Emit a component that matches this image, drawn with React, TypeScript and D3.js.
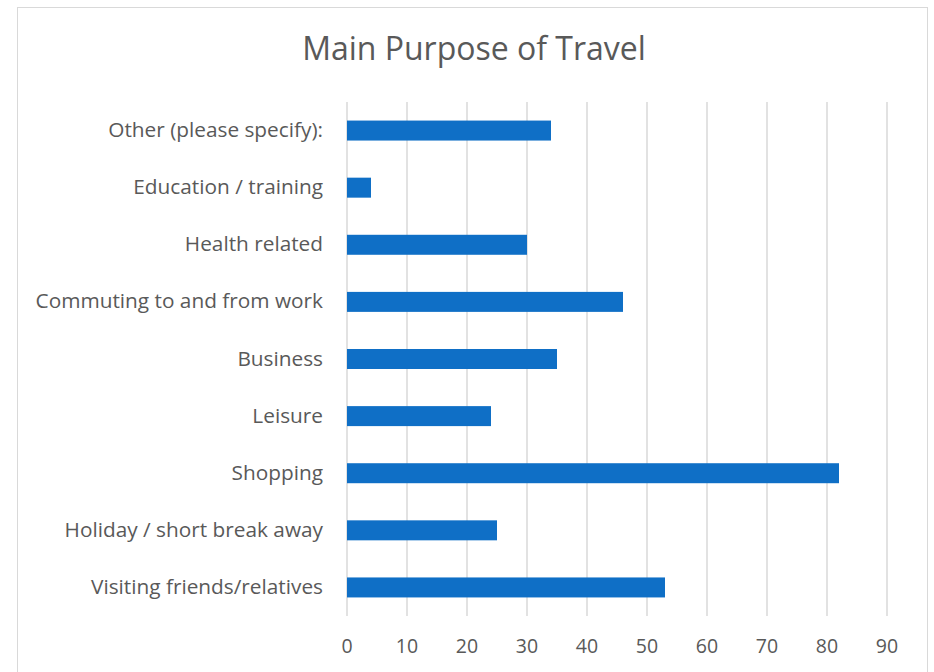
import React from "react";
import * as d3 from "d3";

const title = "Main Purpose of Travel";
const categories = [
  "Visiting friends/relatives",
  "Holiday / short break away",
  "Shopping",
  "Leisure",
  "Business",
  "Commuting to and from work",
  "Health related",
  "Education / training",
  "Other (please specify):",
];
const values = [53, 25, 82, 24, 35, 46, 30, 4, 34];
const xTicks = [0, 10, 20, 30, 40, 50, 60, 70, 80, 90];

const W = 934;
const H = 672;
const FONT = "'Open Sans', Lato, sans-serif";

export default function App() {
  const x = d3.scaleLinear().domain([0, 90]).range([347, 887]);
  const y = d3
    .scaleBand<string>()
    .domain([...categories].reverse())
    .range([102, 616])
    .paddingInner(0.65)
    .paddingOuter(0.325);
  return (
    <svg width={W} height={H} style={{ position: "absolute", left: 0, top: 0 }}>
      <rect x={0} y={0} width={W} height={H} fill="#ffffff" />
      <rect x={17.5} y={7.5} width={910} height={680} fill="#ffffff" stroke="#d9d9d9" strokeWidth={1} />
      <text x={474} y={60} textAnchor="middle" fontFamily={FONT} fontSize={32} fill="#595959">
        {title}
      </text>
      {xTicks.map((t) => (
        <line key={t} x1={x(t)} x2={x(t)} y1={102} y2={616} stroke="#d9d9d9" strokeWidth={1.5} />
      ))}
      {xTicks.map((t) => (
        <text key={"l" + t} x={x(t)} y={653} textAnchor="middle" fontFamily={FONT} fontSize={19.5} fill="#595959">
          {t}
        </text>
      ))}
      {categories.map((c, i) => (
        <g key={c}>
          <rect x={x(0)} y={y(c)!} width={x(values[i]) - x(0)} height={y.bandwidth()} fill="#0f6fc6" />
          <text
            x={323}
            y={y(c)! + y.bandwidth() / 2 + 6.5}
            textAnchor="end"
            fontFamily={FONT}
            fontSize={20.8}
            fill="#595959"
          >
            {c}
          </text>
        </g>
      ))}
    </svg>
  );
}
